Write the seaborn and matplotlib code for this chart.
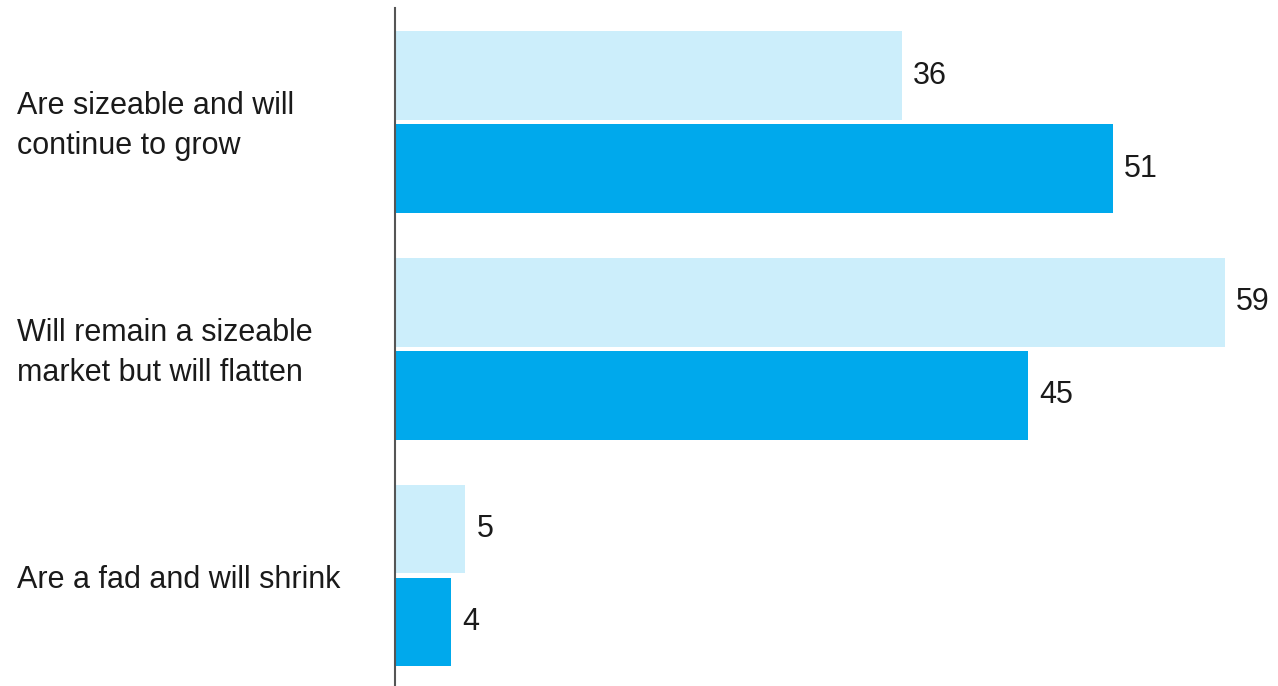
import matplotlib
matplotlib.use("Agg")
import matplotlib.pyplot as plt
import matplotlib.transforms as mtransforms
import seaborn as sns
import pandas as pd

categories = [
    "Are sizeable and will\ncontinue to grow",
    "Will remain a sizeable\nmarket but will flatten",
    "Are a fad and will shrink",
]
series_names = ["Earlier", "Latest"]
earlier_values = [36, 59, 5]
latest_values = [51, 45, 4]
colors = ["#CCEEFB", "#00A9EC"]

df = pd.DataFrame({
    "category": categories * 2,
    "series": [series_names[0]] * 3 + [series_names[1]] * 3,
    "value": earlier_values + latest_values,
})

sns.set_style("white")
plt.rcParams["font.family"] = ["Liberation Sans", "DejaVu Sans"]

W, H = 1278, 686
fig = plt.figure(figsize=(W / 100, H / 100), dpi=100)
ax = fig.add_axes([395 / W, 0, 1 - 395 / W, 1 - 8 / H])

sns.barplot(data=df, y="category", x="value", hue="series", order=categories,
            hue_order=series_names, palette=colors, orient="h", width=0.82,
            gap=0.045, legend=False, ax=ax, saturation=1, linewidth=0)

for cont in ax.containers:
    ax.bar_label(cont, padding=8, fontsize=22, color="#1a1a1a")

ax.set_xlim(0, (W - 395) / 14.07)
ax.set_ylim(2.487, -0.503)
ax.set_xlabel("")
ax.set_ylabel("")
ax.set_xticks([])
ax.set_yticks([])
for s in ["top", "right", "bottom"]:
    ax.spines[s].set_visible(False)
ax.spines["left"].set_color("#555555")
ax.spines["left"].set_linewidth(1.5)

trans = mtransforms.blended_transform_factory(fig.transFigure, ax.transData)
trans = trans + mtransforms.ScaledTranslation(0, -4 / 100, fig.dpi_scale_trans)
for i, c in enumerate(categories):
    ax.text(17 / W, i, c, transform=trans, ha="left", va="center",
            fontsize=22, color="#1a1a1a", linespacing=1.44)

fig.savefig("out.png", dpi=100)
